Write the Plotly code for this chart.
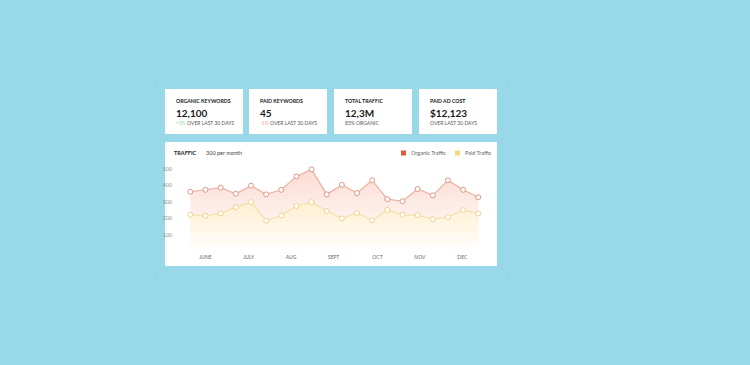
import plotly.graph_objects as go

W, H = 750, 365

# ---- data ----
organic = [363, 375, 388, 351, 400, 347, 375, 457, 500, 347, 405, 355, 433, 318, 305, 380, 341, 433, 375, 329]
paid = [222, 216, 231, 269, 300, 186, 218, 276, 300, 245, 200, 233, 188, 252, 222, 220, 195, 208, 251, 230]
month_labels = ["JUNE", "JULY", "AUG", "SEPT", "OCT", "NOV", "DEC"]
month_pos = [1.0, 3.85, 6.65, 9.45, 12.35, 15.15, 17.95]
y_ticks = [100, 200, 300, 400, 500]
series_names = ["Organic Traffic", "Paid Traffic"]

card_titles = ["ORGANIC KEYWORDS", "PAID KEYWORDS", "TOTAL TRAFFIC", "PAID AD COST"]
card_values = ["12,100", "45", "12,3M", "$12,123"]
card_deltas = ["+3%", "-1%", "", ""]
card_notes = ["OVER LAST 30 DAYS", "OVER LAST 30 DAYS", "85% ORGANIC", "OVER LAST 30 DAYS"]

# ---- style ----
BG = "#98D8E8"
ORG_LINE = "#EBB0A1"
ORG_MARK = "#DE9784"
PAID_LINE = "#F7E0A8"
PAID_MARK = "#F0D28C"
ORG_SWATCH = "#E35A32"
PAID_SWATCH = "#F8D680"
FONT = "Lato"

def px(x):
    return x / W

def py(y):
    return 1 - y / H

x = list(range(len(organic)))

fig = go.Figure()
fig.add_trace(go.Scatter(
    x=x, y=organic, name=series_names[0], mode="lines+markers",
    line=dict(color=ORG_LINE, width=1.2),
    marker=dict(symbol="circle", size=5, color="white", line=dict(color=ORG_MARK, width=1)),
    fill="tozeroy",
    fillgradient=dict(type="vertical", start=0, stop=500,
                      colorscale=[[0, "rgba(255,255,255,1)"], [0.35, "#FEF3EF"], [1, "#FBDCD3"]]),
    showlegend=False,
))
fig.add_trace(go.Scatter(
    x=x, y=paid, name=series_names[1], mode="lines+markers",
    line=dict(color=PAID_LINE, width=1.2),
    marker=dict(symbol="circle", size=5, color="white", line=dict(color=PAID_MARK, width=1)),
    fill="tozeroy",
    fillgradient=dict(type="vertical", start=0, stop=300,
                      colorscale=[[0, "rgba(255,255,255,1)"], [0.4, "#FFF8EA"], [1, "#FEEFD0"]]),
    showlegend=False,
))

shapes = []
annotations = []

# stat cards
card_x = [(165, 243), (249, 327), (334, 412), (419, 497)]
for i, (x0, x1) in enumerate(card_x):
    shapes.append(dict(type="rect", xref="paper", yref="paper", x0=px(x0), x1=px(x1),
                       y0=py(134), y1=py(89), fillcolor="white", line=dict(width=0), layer="below"))
    tx = px(x0 + 9)
    annotations.append(dict(xref="paper", yref="paper", x=tx, y=py(100.5), text="<b>" + card_titles[i] + "</b>",
                            showarrow=False, xanchor="left", yanchor="middle",
                            font=dict(family=FONT, size=5.2, color="#222"), ))
    annotations.append(dict(xref="paper", yref="paper", x=tx, y=py(113), text="<b>" + card_values[i] + "</b>",
                            showarrow=False, xanchor="left", yanchor="middle",
                            font=dict(family=FONT, size=10, color="#1a1a1a")))
    delta = card_deltas[i]
    if delta:
        col = "#9AD8A8" if delta.startswith("+") else "#F2A497"
        note = "<span style='color:%s'>%s</span> %s" % (col, delta, card_notes[i])
    else:
        note = card_notes[i]
    annotations.append(dict(xref="paper", yref="paper", x=tx, y=py(122.5), text=note,
                            showarrow=False, xanchor="left", yanchor="middle",
                            font=dict(family=FONT, size=5, color="#555")))

# chart card
shapes.append(dict(type="rect", xref="paper", yref="paper", x0=px(165), x1=px(497),
                   y0=py(266), y1=py(142), fillcolor="white", line=dict(width=0), layer="below"))
annotations.append(dict(xref="paper", yref="paper", x=px(172), y=py(152.5), text="<b>TRAFFIC</b>",
                        showarrow=False, xanchor="left", yanchor="middle",
                        font=dict(family=FONT, size=5.5, color="#222")))
annotations.append(dict(xref="paper", yref="paper", x=px(204), y=py(152.5), text="300 per month",
                        showarrow=False, xanchor="left", yanchor="middle",
                        font=dict(family=FONT, size=5.5, color="#444")))

# legend
leg = [(401, ORG_SWATCH, series_names[0]), (455, PAID_SWATCH, series_names[1])]
for lx, col, name in leg:
    shapes.append(dict(type="rect", xref="paper", yref="paper", x0=px(lx), x1=px(lx + 5),
                       y0=py(155.5), y1=py(150.5), fillcolor=col, line=dict(width=0)))
    annotations.append(dict(xref="paper", yref="paper", x=px(lx + 8), y=py(153), text=name,
                            showarrow=False, xanchor="left", yanchor="middle",
                            font=dict(family=FONT, size=5.5, color="#666")))

# faint corner marks
for cx, cy in [(155, 82), (507, 82), (155, 275), (507, 275)]:
    shapes.append(dict(type="rect", xref="paper", yref="paper", x0=px(cx - 0.6), x1=px(cx + 0.6),
                       y0=py(cy + 0.6), y1=py(cy - 0.6), fillcolor="#7FB7C6", line=dict(width=0)))

fig.update_layout(
    width=W, height=H,
    margin=dict(l=0, r=0, t=0, b=0),
    paper_bgcolor=BG, plot_bgcolor="rgba(0,0,0,0)",
    shapes=shapes, annotations=annotations,
    xaxis=dict(domain=[px(185.8), px(482.8)], range=[-0.3, 19.3], showgrid=False, zeroline=False,
               showline=False, tickmode="array", tickvals=month_pos, ticktext=month_labels,
               tickfont=dict(family=FONT, size=5, color="#666"), ticks="", ticklabelstandoff=2),
    yaxis=dict(domain=[py(251.1), py(166.1)], range=[0, 520], showgrid=False, zeroline=False,
               showline=False, tickmode="array", tickvals=y_ticks,
               tickfont=dict(family=FONT, size=5, color="#888"), ticks="", ticklabelstandoff=13),
    showlegend=False,
)

fig.write_html("out.html", config={"displayModeBar": False},
               post_script="document.body.style.margin='0';document.body.style.overflow='hidden';")
